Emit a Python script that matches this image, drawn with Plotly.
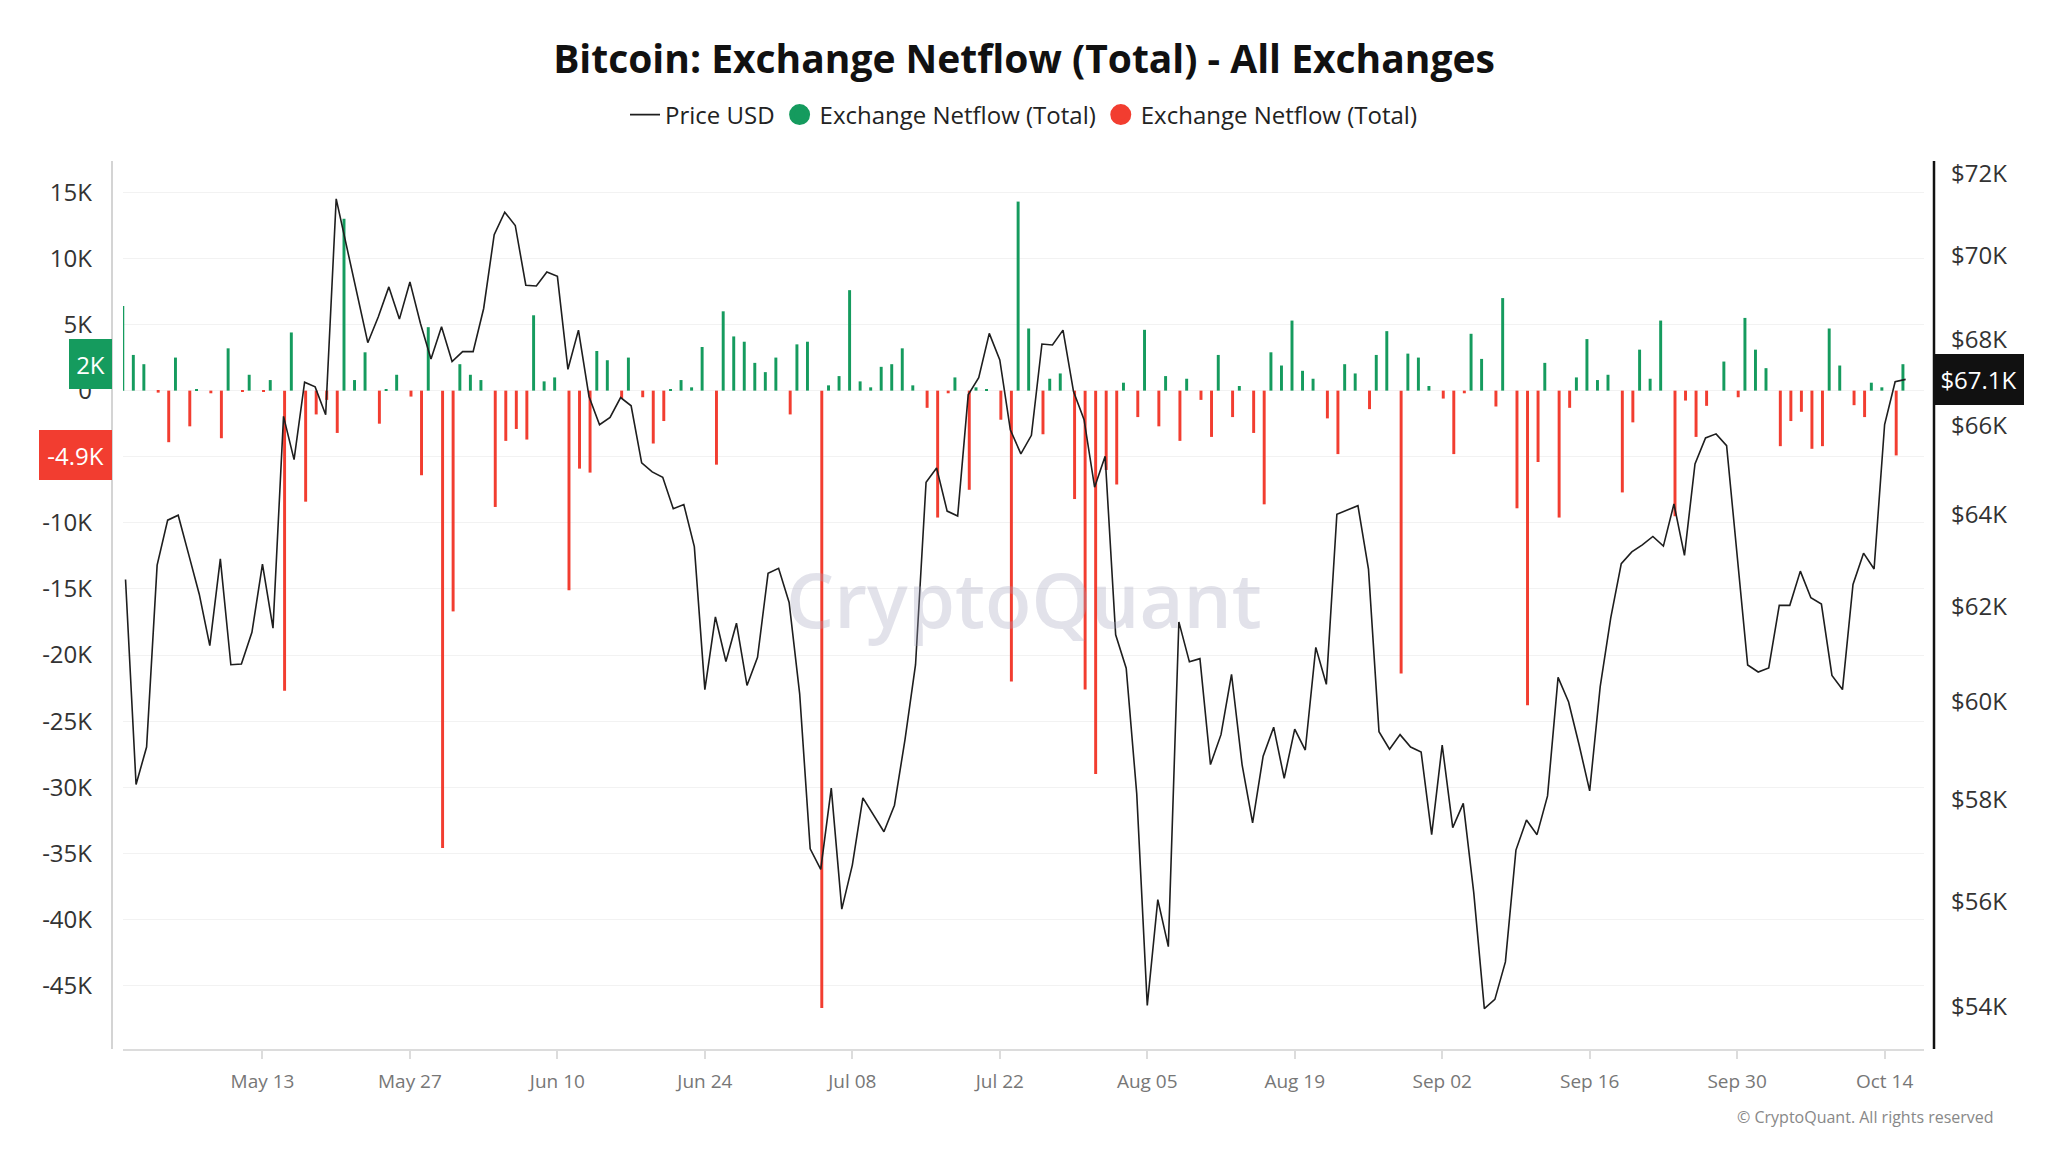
import math
import pandas as pd
import plotly.graph_objects as go

# ---------------- data ----------------
start_date = "2024-04-30"

# daily exchange netflow (BTC), Apr 30 -> Oct 16 2024
netflow = [
    6400, 2700, 2000, -150, -3900, 2500, -2700, 50, -200, -3600,
    3200, -100, 1200, -100, 800, -22700, 4400, -8400, -1800, -700,
    -3200, 13000, 800, 2900, -2500, 100, 1200, -450, -6400, 4800,
    -34600, -16700, 2000, 1200, 800, -8800, -3800, -2900, -3700, 5700,
    700, 1000, -15100, -5900, -6200, 3000, 2300, -600, 2500, -500,
    -4000, -2300, 50, 800, 250, 3300, -5600, 6000, 4100, 3700,
    2100, 1400, 2500, -1800, 3500, 3700, -46700, 400, 1100, 7600,
    700, 250, 1800, 2000, 3200, 400, -1300, -9600, -200, 1000,
    -7500, 250, 50, -2200, -22000, 14300, 4700, -3300, 900, 1300,
    -8200, -22600, -29000, -6000, -7100, 600, -2000, 4600, -2700, 1100,
    -3800, 900, -700, -3500, 2700, -2000, 350, -3200, -8600, 2900,
    1900, 5300, 1500, 900, -2100, -4800, 2000, 1300, -1400, 2700,
    4500, -21400, 2800, 2500, 350, -600, -4800, -200, 4300, 2400,
    -1200, 7000, -8900, -23800, -5400, 2100, -9600, -1300, 1000, 3900,
    800, 1200, -7700, -2400, 3100, 900, 5300, -9500, -750, -3500,
    -1150, 0, 2200, -500, 5500, 3100, 1700, -4200, -2300, -1600,
    -4400, -4200, 4700, 1900, -1100, -2000, 600, 250, -4900, 2000,
]

# daily BTC price (USD)
price = [
    62585, 58310, 59069, 62899, 63882, 63992, 63126, 62270, 61173, 63035,
    60772, 60788, 61455, 62919, 61544, 66212, 65232, 66999, 66891, 66250,
    71376, 70199, 69121, 67919, 68529, 69240, 68474, 69359, 68372, 67539,
    68293, 67477, 67709, 67709, 68726, 70498, 71049, 70724, 69279, 69263,
    69598, 69494, 67298, 68215, 66669, 66022, 66189, 66645, 66456, 65157,
    64955, 64836, 64134, 64229, 63300, 60251, 61783, 60840, 61650, 60338,
    60928, 62721, 62828, 62092, 60163, 57028, 56628, 58236, 55855, 56710,
    58043, 57711, 57366, 57894, 59221, 60772, 64725, 65045, 64083, 63973,
    66707, 67105, 68138, 67515, 65908, 65360, 65780, 67888, 67864, 68215,
    66783, 66136, 64613, 65307, 61402, 60700, 58126, 54026, 56039, 55136,
    61677, 60832, 60900, 58713, 59322, 60572, 58713, 57542, 58883, 59475,
    58436, 59435, 59008, 61137, 60362, 64012, 64111, 64203, 62813, 59384,
    59025, 59323, 59068, 58966, 57309, 59110, 57449, 57930, 56165, 53969,
    54140, 54846, 57004, 57598, 57309, 58081, 60506, 59994, 59110, 58182,
    60314, 61764, 62931, 63185, 63340, 63523, 63313, 64240, 63112, 65133,
    65723, 65814, 65548, 63100, 60767, 60619, 60706, 62031, 62031, 62768,
    62193, 62058, 60549, 60253, 62480, 63158, 62813, 66027, 67010, 67064,
]

left_tick_values = list(range(-45000, 15001, 5000))
# the -5K label sits entirely behind the latest-outflow badge in the reference
left_tick_labels = ["0" if v == 0 else ("" if v == -5000 else f"{v // 1000}K")
                    for v in left_tick_values]
right_tick_values = list(range(54000, 72001, 2000))
right_tick_labels = [f"${v // 1000}K" for v in right_tick_values]
x_tick_dates = pd.date_range("2024-05-13", "2024-10-14", freq="14D")
x_tick_labels = [d.strftime("%b %d") for d in x_tick_dates]

# ---------------- styling ----------------
GREEN = "#159b5e"
RED = "#f23d30"
FONT = "Open Sans"
W, H = 2048, 1152
ML, MR, MT, MB = 123, 124, 161, 103
PW = W - ML - MR
PH = H - MT - MB
DAY_MS = 86400000

dates = pd.date_range(start_date, periods=len(price), freq="D")
pos = [v if v >= 0 else None for v in netflow]
neg = [v if v < 0 else None for v in netflow]

fig = go.Figure()
fig.add_trace(go.Bar(x=dates, y=pos, marker=dict(color=GREEN, line=dict(width=0)),
                     width=DAY_MS * 0.28, offset=-DAY_MS * 0.40,
                     showlegend=False, name="Exchange Netflow (Total)"))
fig.add_trace(go.Bar(x=dates, y=neg, marker=dict(color=RED, line=dict(width=0)),
                     width=DAY_MS * 0.28, offset=-DAY_MS * 0.04,
                     showlegend=False, name="Exchange Netflow (Total)"))
fig.add_trace(go.Scatter(x=dates, y=price, yaxis="y2", mode="lines",
                         line=dict(color="#1e1e1e", width=1.6), name="Price USD"))
fig.add_trace(go.Scatter(x=[None], y=[None], mode="markers",
                         marker=dict(size=24, color=GREEN, line=dict(color=GREEN, width=5)),
                         name="Exchange Netflow (Total)"))
fig.add_trace(go.Scatter(x=[None], y=[None], mode="markers",
                         marker=dict(size=24, color=RED, line=dict(color=RED, width=5)),
                         name="Exchange Netflow (Total)"))

x0 = pd.Timestamp("2024-05-13") - pd.Timedelta(hours=13.24 * 24)
x1 = pd.Timestamp("2024-10-14") + pd.Timedelta(hours=3.74 * 24)

fig.update_layout(
    width=W, height=H,
    margin=dict(l=ML, r=MR, t=MT, b=MB, pad=0),
    paper_bgcolor="white", plot_bgcolor="white",
    barmode="overlay",
    font=dict(family=FONT, color="#222"),
    title=dict(text="<b>Bitcoin: Exchange Netflow (Total) - All Exchanges</b>",
               x=0.5, xanchor="center", y=1 - 59 / H, yanchor="middle",
               yref="container", font=dict(size=39, color="#111", family=FONT)),
    legend=dict(orientation="h", x=0.5, xanchor="center",
                y=(PH + MT - 115) / PH, yanchor="middle",
                font=dict(size=24, color="#222"), itemsizing="trace",
                bgcolor="rgba(0,0,0,0)"),
    xaxis=dict(type="date", range=[x0, x1], tickvals=x_tick_dates, ticktext=x_tick_labels,
               showgrid=False, showline=True, linecolor="#dcdcdc", linewidth=1.5,
               ticks="outside", ticklen=8, tickcolor="#dcdcdc", tickwidth=1.5,
               tickfont=dict(size=19, color="#777"), ticklabelstandoff=6, zeroline=False),
    yaxis=dict(range=[-49800, 17370], tickvals=left_tick_values, ticktext=left_tick_labels,
               showgrid=True, gridcolor="#f2f2f2", gridwidth=1.2, zeroline=False,
               showline=False, tickfont=dict(size=24, color="#333"), ticklabelstandoff=30),
    yaxis2=dict(type="log", overlaying="y", side="right",
                range=[math.log10(53221), math.log10(72316)],
                tickvals=right_tick_values, ticktext=right_tick_labels,
                showgrid=False, zeroline=False, showline=False,
                tickfont=dict(size=24, color="#333"), ticklabelstandoff=26),
    shapes=[
        dict(type="line", xref="paper", yref="paper", x0=-11 / PW, x1=-11 / PW, y0=0, y1=1,
             line=dict(color="#d4d4d4", width=2)),
        dict(type="line", xref="paper", yref="paper", x0=1 + 10 / PW, x1=1 + 10 / PW, y0=0, y1=1,
             line=dict(color="#111111", width=2.5)),
    ],
    annotations=[
        dict(text="CryptoQuant", xref="paper", yref="paper", x=0.5, y=0.5075,
             xanchor="center", yanchor="middle", showarrow=False,
             font=dict(size=76, color="rgba(165,165,190,0.32)", family=FONT, weight=600)),
        dict(text="© CryptoQuant. All rights reserved", xref="paper", yref="paper",
             x=(1996 - ML) / PW, y=-(1117 - (MT + PH)) / PH, xanchor="right", yanchor="middle",
             showarrow=False, font=dict(size=16, color="#888")),
        dict(text=f"{netflow[-1] / 1000:g}K", xref="paper", yref="y", x=-11 / PW, y=netflow[-1],
             xanchor="right", yanchor="middle", showarrow=False, bgcolor=GREEN,
             width=43, height=50, borderpad=0, borderwidth=0,
             font=dict(size=24, color="white")),
        dict(text=f"{netflow[-2] / 1000:g}K", xref="paper", yref="y", x=-11 / PW, y=netflow[-2],
             xanchor="right", yanchor="middle", showarrow=False, bgcolor=RED,
             width=73, height=50, borderpad=0, borderwidth=0,
             font=dict(size=24, color="white")),
        dict(text=f"${price[-1] / 1000:.1f}K", xref="paper", yref="y2", x=1 + 9 / PW,
             y=math.log10(price[-1]), xanchor="left", yanchor="middle", showarrow=False,
             bgcolor="#111111", width=91, height=51, borderpad=0, borderwidth=0,
             font=dict(size=24, color="white")),
    ],
)

fig.write_html("out.html", config={"displayModeBar": False},
               post_script="document.body.style.margin='0';")
